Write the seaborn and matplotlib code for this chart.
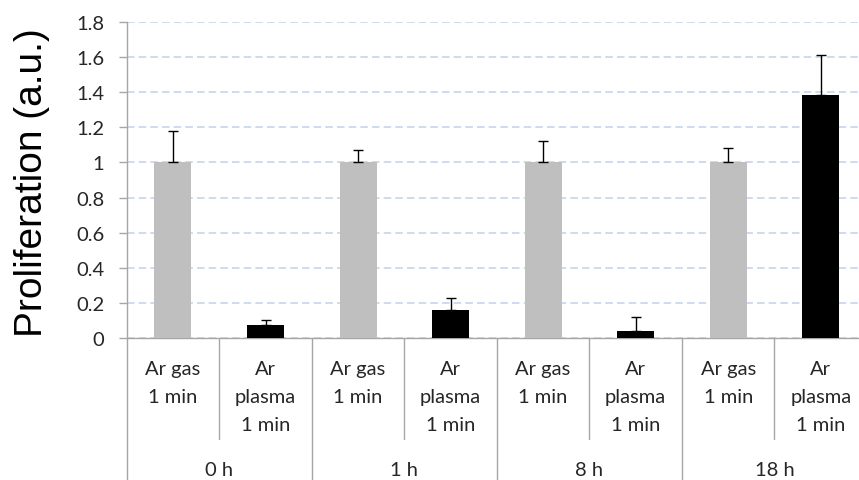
import matplotlib
matplotlib.use("Agg")
import matplotlib.pyplot as plt
import matplotlib.transforms as mtransforms
import seaborn as sns
import pandas as pd

# ---- data ----
groups = ["0 h", "1 h", "8 h", "18 h"]
treatments = ["Ar gas\n1 min", "Ar\nplasma\n1 min"]
gas_values = [1.0, 1.0, 1.0, 1.0]
gas_err = [0.18, 0.07, 0.12, 0.08]
plasma_values = [0.075, 0.16, 0.04, 1.385]
plasma_err = [0.025, 0.07, 0.08, 0.225]
y_ticks = [0, 0.2, 0.4, 0.6, 0.8, 1.0, 1.2, 1.4, 1.6, 1.8]
y_tick_labels = ["0", "0.2", "0.4", "0.6", "0.8", "1", "1.2", "1.4", "1.6", "1.8"]

rows = []
for g, gv, ge, pv, pe in zip(groups, gas_values, gas_err, plasma_values, plasma_err):
    rows.append({"slot": g + " gas", "group": g, "treat": "gas", "label": treatments[0], "value": gv, "err": ge})
    rows.append({"slot": g + " plasma", "group": g, "treat": "plasma", "label": treatments[1], "value": pv, "err": pe})
df = pd.DataFrame(rows)

sns.set_style("white")
plt.rcParams["font.family"] = ["Lato", "DejaVu Sans"]

W, H = 859, 481
fig = plt.figure(figsize=(W / 100, H / 100), dpi=100)
ax_left, ax_right, ax_top, ax_bot = 126.7, 867.0, 23.0, 339.0
ax = fig.add_axes([ax_left / W, 1 - ax_bot / H, (ax_right - ax_left) / W, (ax_bot - ax_top) / H])

sns.barplot(data=df, x="slot", y="value", hue="treat", order=list(df["slot"]),
            palette={"gas": "#bfbfbf", "plasma": "#000000"}, dodge=False, width=0.40,
            errorbar=None, legend=False, ax=ax, zorder=3, linewidth=0)

xs = list(range(len(df)))
ax.errorbar(xs, df["value"], yerr=[[0] * len(df), df["err"]], fmt="none",
            ecolor="#000000", elinewidth=1.0, capsize=3.7, capthick=1.0, zorder=4)

ax.set_xlim(-0.5, len(df) - 0.5)
ax.set_ylim(0, 1.8)
ax.set_yticks(y_ticks)
ax.set_yticklabels(y_tick_labels, fontsize=14.5, color="#262626")
ax.set_xticks([])
ax.set_xlabel("")
ax.set_ylabel("")

ax.yaxis.grid(True, color="#c6d4ee", linestyle=(0, (4.5, 2.5)), linewidth=1.2, zorder=0)
ax.xaxis.grid(False)
for s in ["top", "right"]:
    ax.spines[s].set_visible(False)
for s in ["left", "bottom"]:
    ax.spines[s].set_color("#a6a6a6")
    ax.spines[s].set_linewidth(1.0)
ax.tick_params(axis="y", which="both", left=True, length=6, width=1.0, color="#a6a6a6", pad=10)

# y-axis label
fig.text(32 / W, 1 - 183 / H, "Proliferation (a.u.)", rotation=90, ha="center", va="center",
         fontsize=28, family=["Liberation Sans", "DejaVu Sans"], color="#000000")

# multi-level category table
blend = mtransforms.blended_transform_factory(ax.transData, fig.transFigure)
line_kw = dict(color="#a6a6a6", linewidth=1.0, transform=blend, clip_on=False)
for i in range(len(df) + 1):
    x = i - 0.5
    if i % 2 == 0:
        ax.plot([x, x], [1 - ax_bot / H, 0], **line_kw)
    else:
        ax.plot([x, x], [1 - ax_bot / H, 1 - 440 / H], **line_kw)

baselines = [375, 403.5, 431.5]
for i, lab in enumerate(df["label"]):
    for li, line in enumerate(lab.split("\n")):
        ax.text(i, 1 - baselines[li] / H, line, ha="center", va="baseline", fontsize=14.5,
                color="#262626", transform=blend)
for gi, g in enumerate(groups):
    ax.text(2 * gi + 0.5, 1 - 476.5 / H, g, ha="center", va="baseline", fontsize=14.5,
            color="#262626", transform=blend)

fig.savefig("out.png", dpi=100)
